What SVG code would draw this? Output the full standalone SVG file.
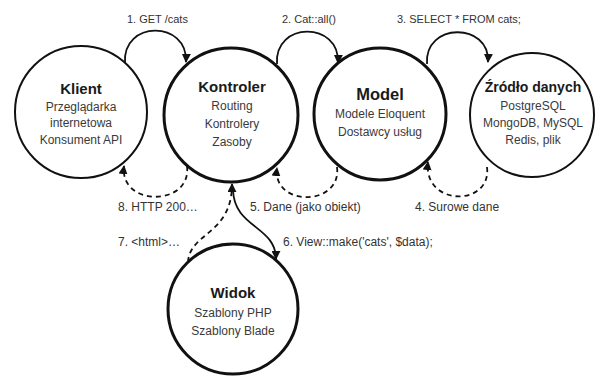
<svg xmlns="http://www.w3.org/2000/svg" width="601" height="376" viewBox="0 0 601 376">
<defs>
<marker id="ah" viewBox="0 0 10 10" refX="9" refY="5" markerWidth="9" markerHeight="9" markerUnits="userSpaceOnUse" orient="auto">
<path d="M0,0 L10,5 L0,10 z" fill="#111"/>
</marker>
<style>
.node{fill:#fff;stroke:#111}
.thin{stroke-width:2}
.thick{stroke-width:3}
.t{font-family:"Liberation Sans",Arial,sans-serif;font-weight:bold;font-size:15px;fill:#1a1a1a;text-anchor:middle}
.s{font-family:"Liberation Sans",Arial,sans-serif;font-size:12px;fill:#3a3a3a;text-anchor:middle}
.lbl{font-family:"Liberation Sans",Arial,sans-serif;font-size:11px;fill:#333}
.lb2{font-family:"Liberation Sans",Arial,sans-serif;font-size:12px;fill:#333}
.c{fill:none;stroke:#111;stroke-width:1.8}
.d{stroke-dasharray:5,4}
</style>
</defs>
<rect width="601" height="376" fill="#fff"/>
<g id="connectors">
<path class="c" d="M125,63 C122,20 188,20 186,62" marker-end="url(#ah)"/>
<path class="c" d="M277,64 C274,21 340,21 338,63" marker-end="url(#ah)"/>
<path class="c" d="M427,64 C424,22 490,22 488,62" marker-end="url(#ah)"/>
<path class="c d" d="M187,166 C192,207 119,207 124,166" marker-end="url(#ah)"/>
<path class="c d" d="M337,167 C342,207 272,207 277,168" marker-end="url(#ah)"/>
<path class="c d" d="M487,167 C492,207 423,207 428,162" marker-end="url(#ah)"/>
<path class="c d" d="M188,262 C190,232 232,235 232,184" marker-end="url(#ah)"/>
<path class="c" d="M233,190 C234,228 276,226 276,259" marker-end="url(#ah)"/>
<text class="lbl" x="127" y="23">1. GET /cats</text>
<text class="lbl" x="282" y="23">2. Cat::all()</text>
<text class="lbl" x="397" y="23">3. SELECT * FROM cats;</text>
<text class="lb2" x="118" y="211">8. HTTP 200…</text>
<text class="lb2" x="250" y="211">5. Dane (jako obiekt)</text>
<text class="lb2" x="415" y="211">4. Surowe dane</text>
<text class="lb2" x="118" y="246">7. &lt;html&gt;…</text>
<text class="lb2" x="283" y="246">6. View::make('cats', $data);</text>
</g>
<g id="klient">
<circle class="node thin" cx="81" cy="112" r="66"/>
<text class="t" x="81" y="94">Klient</text>
<text class="s" x="81" y="111">Przeglądarka</text>
<text class="s" x="81" y="127">internetowa</text>
<text class="s" x="81" y="144">Konsument API</text>
</g>
<g id="kontroler">
<circle class="node thick" cx="231" cy="115" r="67"/>
<text class="t" x="232" y="92">Kontroler</text>
<text class="s" x="232" y="110">Routing</text>
<text class="s" x="232" y="128">Kontrolery</text>
<text class="s" x="232" y="146">Zasoby</text>
</g>
<g id="model">
<circle class="node thick" cx="380" cy="114" r="66"/>
<text class="t" x="380" y="100" style="font-size:16.5px">Model</text>
<text class="s" x="380" y="118">Modele Eloquent</text>
<text class="s" x="380" y="136">Dostawcy usług</text>
</g>
<g id="zrodlo">
<circle class="node thin" cx="532" cy="115" r="62"/>
<text class="t" x="533" y="92" style="font-size:14px">Źródło danych</text>
<text class="s" x="533" y="110">PostgreSQL</text>
<text class="s" x="533" y="127">MongoDB, MySQL</text>
<text class="s" x="533" y="144">Redis, plik</text>
</g>
<g id="widok">
<circle class="node thick" cx="233" cy="309" r="65"/>
<text class="t" x="233" y="298">Widok</text>
<text class="s" x="233" y="317">Szablony PHP</text>
<text class="s" x="233" y="335">Szablony Blade</text>
</g>
</svg>
